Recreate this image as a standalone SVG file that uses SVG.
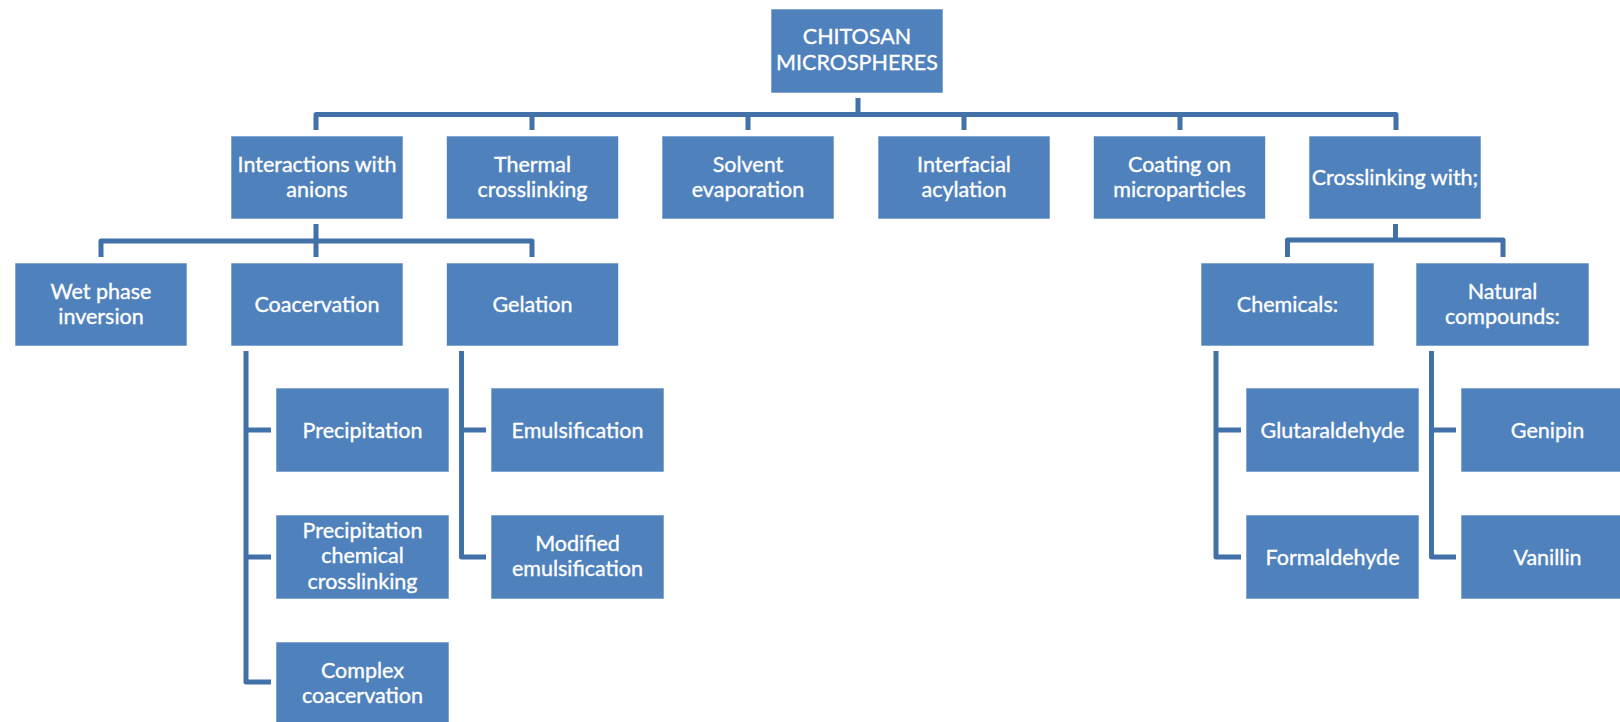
<svg xmlns="http://www.w3.org/2000/svg" width="1620" height="722" viewBox="0 0 1620 722">
<style>
.box{fill:#4F81BD;stroke:#ffffff;stroke-opacity:0.6;stroke-width:1}
.t{font-family:Lato,"Liberation Sans",sans-serif;font-size:21.5px;fill:#ffffff;stroke:#ffffff;stroke-width:0.35;text-anchor:middle}
.c{fill:none;stroke:#4270A8;stroke-width:5;stroke-linejoin:round;stroke-linecap:butt}
</style>
<rect width="1620" height="722" fill="#ffffff"/>
<g id="connectors">
<path class="c" d="M858 98V114.5"/>
<path class="c" d="M316 130V114.5H1396V130"/>
<path class="c" d="M532 114.5V130M748 114.5V130M964 114.5V130M1180 114.5V130"/>
<path class="c" d="M316 224V241M316 241V257"/>
<path class="c" d="M101 257V241H532V257"/>
<path class="c" d="M1395.5 224V240"/>
<path class="c" d="M1287.5 257V240H1503V257"/>
<path class="c" d="M246 351V682H271M246 430H271M246 557H271"/>
<path class="c" d="M461.5 351V557H486M461.5 430H486"/>
<path class="c" d="M1216 351V557H1241M1216 430H1241"/>
<path class="c" d="M1431.5 351V557H1456M1431.5 430H1456"/>
</g>
<g id="n-root"><rect class="box" x="771" y="9" width="172" height="84"/><text class="t" x="857" y="44">CHITOSAN</text><text class="t" x="857" y="70">MICROSPHERES</text></g>
<g id="n-interactions"><rect class="box" x="231" y="136" width="172" height="83"/><text class="t" x="317" y="172">Interactions with</text><text class="t" x="317" y="197">anions</text></g>
<g id="n-thermal"><rect class="box" x="446.5" y="136" width="172" height="83"/><text class="t" x="532.5" y="172">Thermal</text><text class="t" x="532.5" y="197">crosslinking</text></g>
<g id="n-solvent"><rect class="box" x="662" y="136" width="172" height="83"/><text class="t" x="748" y="172">Solvent</text><text class="t" x="748" y="197">evaporation</text></g>
<g id="n-interfacial"><rect class="box" x="878" y="136" width="172" height="83"/><text class="t" x="964" y="172">Interfacial</text><text class="t" x="964" y="197">acylation</text></g>
<g id="n-coating"><rect class="box" x="1093.5" y="136" width="172" height="83"/><text class="t" x="1179.5" y="172">Coating on</text><text class="t" x="1179.5" y="197">microparticles</text></g>
<g id="n-crosslinking"><rect class="box" x="1309" y="136" width="172" height="83"/><text class="t" x="1395" y="185">Crosslinking with;</text></g>
<g id="n-wet"><rect class="box" x="15" y="263" width="172" height="83"/><text class="t" x="101" y="299">Wet phase</text><text class="t" x="101" y="324">inversion</text></g>
<g id="n-coacervation"><rect class="box" x="231" y="263" width="172" height="83"/><text class="t" x="317" y="312">Coacervation</text></g>
<g id="n-gelation"><rect class="box" x="446.5" y="263" width="172" height="83"/><text class="t" x="532.5" y="312">Gelation</text></g>
<g id="n-chemicals"><rect class="box" x="1201" y="263" width="173" height="83"/><text class="t" x="1287.5" y="312">Chemicals:</text></g>
<g id="n-natural"><rect class="box" x="1416" y="263" width="173" height="83"/><text class="t" x="1502.5" y="299">Natural</text><text class="t" x="1502.5" y="324">compounds:</text></g>
<g id="n-precipitation"><rect class="box" x="276" y="388" width="173" height="84"/><text class="t" x="362.5" y="438">Precipitation</text></g>
<g id="n-precipchem"><rect class="box" x="276" y="515" width="173" height="84"/><text class="t" x="362.5" y="538">Precipitation</text><text class="t" x="362.5" y="563">chemical</text><text class="t" x="362.5" y="589">crosslinking</text></g>
<g id="n-complex"><rect class="box" x="276" y="642" width="173" height="84"/><text class="t" x="362.5" y="678">Complex</text><text class="t" x="362.5" y="703">coacervation</text></g>
<g id="n-emulsification"><rect class="box" x="491" y="388" width="173" height="84"/><text class="t" x="577.5" y="438">Emulsification</text></g>
<g id="n-modified"><rect class="box" x="491" y="515" width="173" height="84"/><text class="t" x="577.5" y="551">Modified</text><text class="t" x="577.5" y="576">emulsification</text></g>
<g id="n-glutaraldehyde"><rect class="box" x="1246" y="388" width="173" height="84"/><text class="t" x="1332.5" y="438">Glutaraldehyde</text></g>
<g id="n-formaldehyde"><rect class="box" x="1246" y="515" width="173" height="84"/><text class="t" x="1332.5" y="565">Formaldehyde</text></g>
<g id="n-genipin"><rect class="box" x="1461" y="388" width="173" height="84"/><text class="t" x="1547.5" y="438">Genipin</text></g>
<g id="n-vanillin"><rect class="box" x="1461" y="515" width="173" height="84"/><text class="t" x="1547.5" y="565">Vanillin</text></g>
</svg>
